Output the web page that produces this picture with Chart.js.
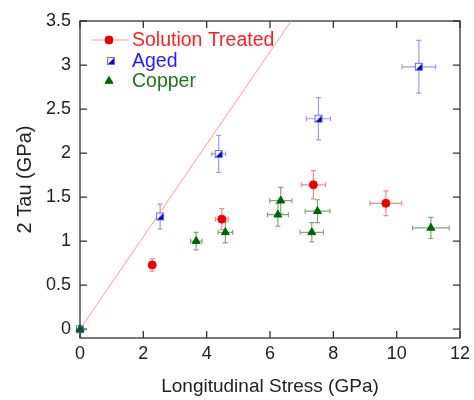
<!DOCTYPE html>
<html>
<head>
<meta charset="utf-8">
<script src="https://cdn.jsdelivr.net/npm/chart.js@4.4.0/dist/chart.umd.min.js"></script>
<style>
  html, body { margin: 0; padding: 0; background: #fff; }
  #wrap { width: 474px; height: 400px; }
</style>
</head>
<body>
<div id="wrap"><canvas id="chart"></canvas></div>
<script>
// axis ticks
const xTicks = [0, 2, 4, 6, 8, 10, 12];
const yTicks = [0, 0.5, 1, 1.5, 2, 2.5, 3, 3.5];

// Solution Treated
const solX = [2.28, 4.48, 7.37, 9.66];
const solY = [0.73, 1.25, 1.64, 1.43];
const solXErr = [0.08, 0.2, 0.38, 0.5];
const solYErr = [0.07, 0.12, 0.16, 0.14];

// Aged
const agedX = [0, 2.53, 4.38, 7.53, 10.7];
const agedY = [0, 1.28, 1.99, 2.39, 2.98];
const agedXErr = [0, 0.06, 0.22, 0.38, 0.53];
const agedYErr = [0, 0.14, 0.21, 0.24, 0.30];

// Copper
const cuX = [0, 3.67, 4.59, 6.25, 6.34, 7.32, 7.50, 11.08];
const cuY = [0, 1.0, 1.10, 1.30, 1.46, 1.10, 1.34, 1.15];
const cuXErr = [0, 0.18, 0.23, 0.33, 0.35, 0.37, 0.39, 0.58];
const cuYErr = [0, 0.10, 0.12, 0.13, 0.15, 0.11, 0.13, 0.12];

// reference line
const fitX = [0, 7];
const fitY = [0, 3.675];

const FONT = '"Liberation Sans", Arial, sans-serif';
const TEXT = '#222';

function toPoints(xs, ys) {
    return xs.map((x, i) => ({ x: x, y: ys[i] }));
}

// half filled square marker for "Aged"
function agedMarker() {
    const c = document.createElement('canvas');
    c.width = 10; c.height = 10;
    const g = c.getContext('2d');
    g.fillStyle = '#fff';
    g.fillRect(1, 1, 8, 8);
    g.fillStyle = '#0000c8';
    g.beginPath();
    g.moveTo(9, 1); g.lineTo(9, 9); g.lineTo(1, 9);
    g.closePath();
    g.fill();
    g.strokeStyle = '#6b6bff';
    g.lineWidth = 1;
    g.strokeRect(1.5, 1.5, 7, 7);
    return c;
}
const agedStyle = agedMarker();

const frame = {
    id: 'frame',
    beforeDatasetsDraw(chart) {
        const ctx = chart.ctx, a = chart.chartArea;
        const xs = chart.scales.x, ys = chart.scales.y;
        ctx.save();
        ctx.strokeStyle = '#333';
        ctx.lineWidth = 1.3;
        ctx.strokeRect(a.left, a.top, a.right - a.left, a.bottom - a.top);
        ctx.beginPath();
        xTicks.forEach(v => {
            const p = xs.getPixelForValue(v);
            ctx.moveTo(p, a.bottom); ctx.lineTo(p, a.bottom - 7);
            ctx.moveTo(p, a.top); ctx.lineTo(p, a.top + 7);
        });
        yTicks.forEach(v => {
            const p = ys.getPixelForValue(v);
            ctx.moveTo(a.left, p); ctx.lineTo(a.left + 7, p);
            ctx.moveTo(a.right, p); ctx.lineTo(a.right - 7, p);
        });
        ctx.stroke();
        ctx.restore();
    }
};

const errorBars = {
    id: 'errorBars',
    beforeDatasetsDraw(chart) {
        const ctx = chart.ctx;
        const xs = chart.scales.x, ys = chart.scales.y;
        const cap = 2.5;
        ctx.save();
        ctx.lineWidth = 1.2;
        chart.data.datasets.forEach(ds => {
            if (!ds.xErr) return;
            ctx.strokeStyle = ds.errColor;
            ctx.beginPath();
            ds.data.forEach((d, i) => {
                const px = xs.getPixelForValue(d.x), py = ys.getPixelForValue(d.y);
                if (ds.xErr[i] > 0) {
                    const x1 = xs.getPixelForValue(d.x - ds.xErr[i]);
                    const x2 = xs.getPixelForValue(d.x + ds.xErr[i]);
                    ctx.moveTo(x1, py); ctx.lineTo(x2, py);
                    ctx.moveTo(x1, py - cap); ctx.lineTo(x1, py + cap);
                    ctx.moveTo(x2, py - cap); ctx.lineTo(x2, py + cap);
                }
                if (ds.yErr[i] > 0) {
                    const y1 = ys.getPixelForValue(d.y - ds.yErr[i]);
                    const y2 = ys.getPixelForValue(d.y + ds.yErr[i]);
                    ctx.moveTo(px, y1); ctx.lineTo(px, y2);
                    ctx.moveTo(px - cap, y1); ctx.lineTo(px + cap, y1);
                    ctx.moveTo(px - cap, y2); ctx.lineTo(px + cap, y2);
                }
            });
            ctx.stroke();
        });
        ctx.restore();
    }
};

const insideLegend = {
    id: 'insideLegend',
    afterDatasetsDraw(chart) {
        const ctx = chart.ctx, a = chart.chartArea;
        const rows = [
            { ds: 1, dy: 19, mx: 29, line: true, color: '#ff2020' },
            { ds: 2, dy: 40, mx: 31, line: false, color: '#1f1fff' },
            { ds: 3, dy: 60, mx: 29, line: false, color: '#1a7a1a' }
        ];
        ctx.save();
        rows.forEach(r => {
            const ds = chart.data.datasets[r.ds];
            const y = a.top + r.dy;
            if (r.line) {
                ctx.strokeStyle = '#ff9a9a';
                ctx.lineWidth = 1;
                ctx.beginPath();
                ctx.moveTo(a.left + 12, y); ctx.lineTo(a.left + 48, y);
                ctx.stroke();
            }
            ctx.fillStyle = ds.pointBackgroundColor;
            ctx.strokeStyle = ds.pointBorderColor;
            Chart.helpers.drawPoint(ctx, {
                pointStyle: ds.pointStyle, radius: ds.pointRadius,
                borderWidth: 1, rotation: 0
            }, a.left + r.mx, y);
            ctx.fillStyle = r.color;
            ctx.font = '19.5px ' + FONT;
            ctx.textAlign = 'left';
            ctx.textBaseline = 'middle';
            ctx.fillText(ds.label, a.left + 52, y + 1);
        });
        ctx.restore();
    }
};

new Chart(document.getElementById('chart'), {
    type: 'scatter',
    data: {
        datasets: [
            {
                label: 'fit',
                data: toPoints(fitX, fitY),
                order: 3,
                showLine: true,
                borderColor: '#ff9a9a',
                borderWidth: 1,
                pointRadius: 0
            },
            {
                label: 'Solution Treated',
                data: toPoints(solX, solY),
                order: 2,
                xErr: solXErr, yErr: solYErr, errColor: '#f58a8a',
                clip: false,
                pointStyle: 'circle',
                pointRadius: 4,
                pointBackgroundColor: '#ee0000',
                pointBorderColor: '#ee0000',
                pointBorderWidth: 1
            },
            {
                label: 'Aged',
                data: toPoints(agedX, agedY),
                order: 1,
                xErr: agedXErr, yErr: agedYErr, errColor: '#9a9aff',
                clip: false,
                pointStyle: agedStyle,
                pointRadius: 5,
                pointBackgroundColor: '#0000c8',
                pointBorderColor: '#6b6bff'
            },
            {
                label: 'Copper',
                data: toPoints(cuX, cuY),
                order: 0,
                xErr: cuXErr, yErr: cuYErr, errColor: '#78ad78',
                clip: false,
                pointStyle: 'triangle',
                pointRadius: 4.6,
                pointBackgroundColor: '#006400',
                pointBorderColor: '#006400',
                pointBorderWidth: 1
            }
        ]
    },
    options: {
        responsive: true,
        maintainAspectRatio: false,
        animation: false,
        layout: { padding: { top: 21, right: 14, left: 0, bottom: 0 } },
        plugins: {
            legend: { display: false },
            tooltip: { enabled: false }
        },
        scales: {
            x: {
                type: 'linear',
                min: 0,
                max: 12,
                afterBuildTicks: s => { s.ticks = xTicks.map(v => ({ value: v })); },
                afterFit: s => { s.height = 62; s.paddingLeft = 0; s.paddingRight = 0; },
                grid: { display: false, drawTicks: false },
                border: { display: false },
                ticks: {
                    color: TEXT, padding: 5, maxRotation: 0, autoSkip: false,
                    font: { family: FONT, size: 18 },
                    callback: v => String(v)
                },
                title: {
                    display: true, text: 'Longitudinal Stress (GPa)', color: TEXT,
                    font: { family: FONT, size: 19 }, padding: { top: 0, bottom: 2 }
                }
            },
            y: {
                type: 'linear',
                min: -0.1,
                max: 3.5,
                afterBuildTicks: s => { s.ticks = yTicks.map(v => ({ value: v })); },
                afterFit: s => { s.width = 80; s.paddingTop = 0; s.paddingBottom = 0; },
                grid: { display: false, drawTicks: false },
                border: { display: false },
                ticks: {
                    color: TEXT, padding: 9, autoSkip: false,
                    font: { family: FONT, size: 18 },
                    callback: v => String(v)
                },
                title: {
                    display: true, text: '2 Tau (GPa)', color: TEXT,
                    font: { family: FONT, size: 20 }, padding: { top: 13, bottom: 0 }
                }
            }
        }
    },
    plugins: [frame, errorBars, insideLegend]
});
</script>
</body>
</html>
